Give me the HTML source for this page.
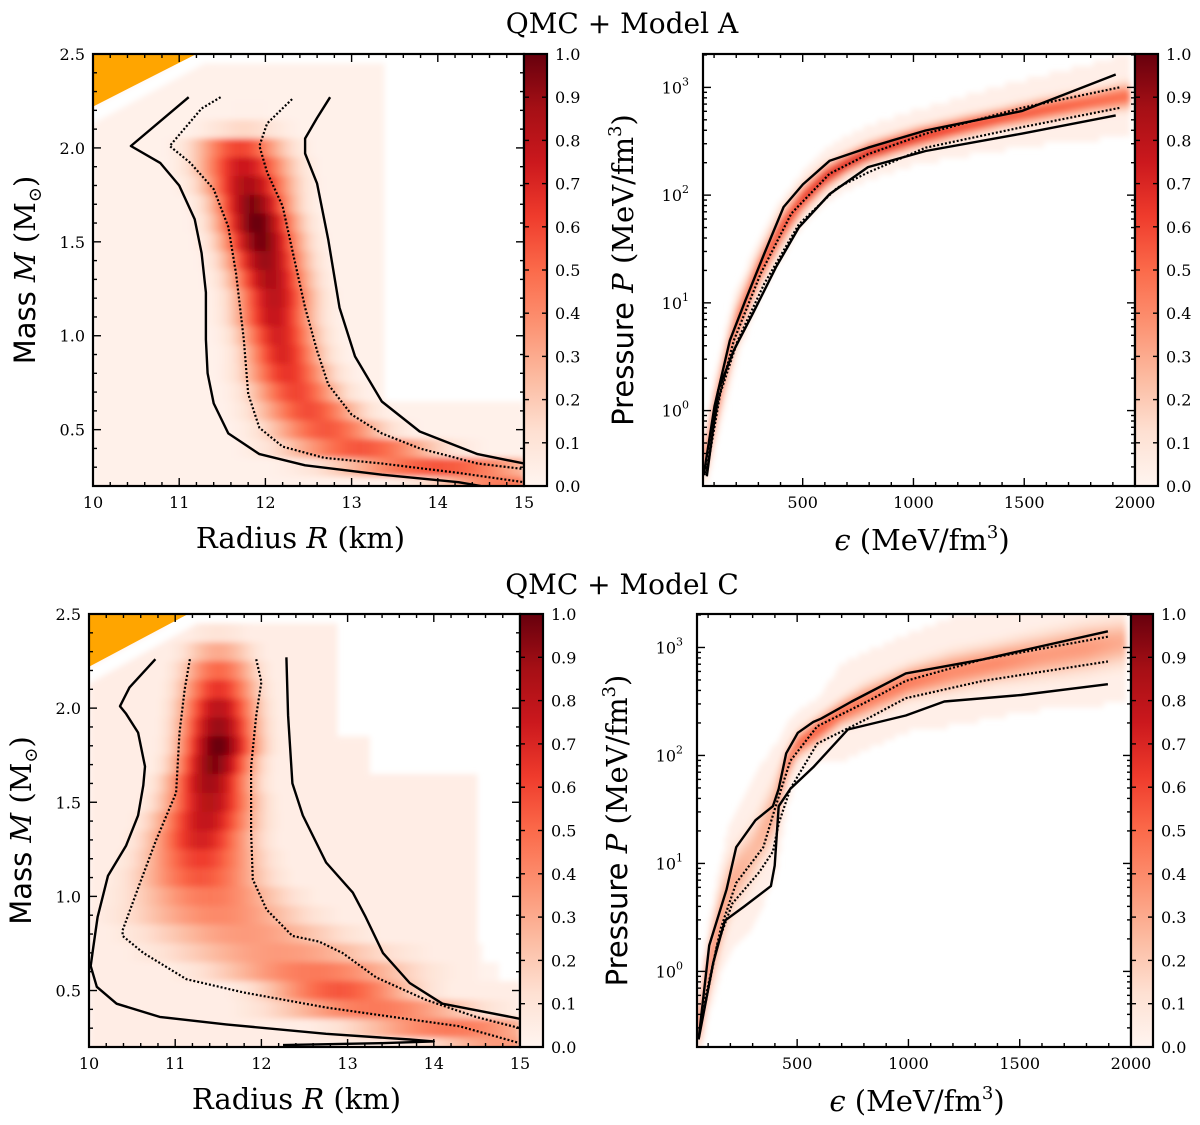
<!DOCTYPE html>
<html><head><meta charset="utf-8"><title>QMC Models</title>
<style>
html,body{margin:0;padding:0;background:#fff;}
svg{display:block;font-family:"DejaVu Serif","Liberation Serif",serif;}
</style></head>
<body>
<svg id="fig" width="1200" height="1125" viewBox="0 0 1200 1125" xmlns="http://www.w3.org/2000/svg">
<defs>
<linearGradient id="redsGrad" x1="0" y1="1" x2="0" y2="0">
<stop offset="0" stop-color="#fff5f0"/><stop offset="0.125" stop-color="#fee0d2"/><stop offset="0.25" stop-color="#fcbba1"/><stop offset="0.375" stop-color="#fc9272"/><stop offset="0.5" stop-color="#fb6a4a"/><stop offset="0.625" stop-color="#ef3b2c"/><stop offset="0.75" stop-color="#cb181d"/><stop offset="0.875" stop-color="#a50f15"/><stop offset="1" stop-color="#67000d"/>
</linearGradient>
<filter id="blur" x="-5%" y="-5%" width="110%" height="110%"><feGaussianBlur stdDeviation="3"/></filter>
</defs>
<text x="622" y="33" font-size="28" text-anchor="middle">QMC + Model A</text>
<text x="622" y="594" font-size="28" text-anchor="middle">QMC + Model C</text>
</svg>
<script>
// ===== Data =====
const mrRowsM = [2.4,2.3,2.2,2.1,2.0,1.9,1.8,1.7,1.6,1.5,1.4,1.3,1.2,1.1,1.0,0.9,0.8,0.7,0.6,0.5,0.4,0.3,0.2];
const mrA_center = [11.8,11.8,11.8,11.75,11.7,11.75,11.8,11.85,11.9,11.95,12.0,12.05,12.1,12.1,12.15,12.2,12.25,12.35,12.5,12.7,13.1,14.0,14.8];
const mrA_width  = [0.4,0.4,0.4,0.35,0.35,0.35,0.33,0.3,0.3,0.3,0.3,0.3,0.3,0.3,0.3,0.3,0.33,0.35,0.4,0.45,0.6,0.8,0.6];
const mrA_peak   = [0,0,0.03,0.15,0.6,0.75,0.85,0.95,1.0,0.97,0.9,0.85,0.8,0.77,0.72,0.7,0.65,0.6,0.58,0.55,0.55,0.55,0.45];
const mrC_center = [11.5,11.5,11.5,11.5,11.5,11.5,11.5,11.45,11.4,11.4,11.35,11.3,11.3,11.3,11.4,11.5,11.8,12.2,12.6,12.9,13.3,14.2,14.8];
const mrC_width  = [0.3,0.3,0.3,0.3,0.3,0.3,0.3,0.3,0.32,0.35,0.38,0.4,0.45,0.5,0.6,0.7,0.8,0.9,0.8,0.6,0.8,0.8,0.6];
const mrC_peak   = [0.1,0.3,0.5,0.65,0.8,0.9,1.0,0.95,0.88,0.82,0.78,0.72,0.62,0.55,0.45,0.4,0.35,0.35,0.45,0.55,0.45,0.45,0.35];

const mrA_outerLeft = [[11.11,2.27],[10.44,2.01],[10.78,1.92],[11.0,1.80],[11.18,1.62],[11.26,1.44],[11.31,1.23],[11.31,0.98],[11.33,0.80],[11.40,0.64],[11.57,0.48],[11.93,0.37],[12.46,0.31],[13.35,0.26],[14.24,0.22],[14.5,0.2]];
const mrA_innerLeft = [[11.48,2.27],[11.26,2.21],[10.89,2.01],[11.13,1.92],[11.40,1.78],[11.57,1.58],[11.66,1.33],[11.75,0.98],[11.80,0.69],[11.93,0.51],[12.20,0.41],[12.68,0.35],[13.35,0.32],[14.24,0.27],[15.0,0.22]];
const mrA_innerRight = [[12.31,2.26],[12.02,2.13],[11.93,2.01],[12.02,1.87],[12.20,1.69],[12.33,1.42],[12.46,1.15],[12.60,0.92],[12.73,0.74],[13.0,0.58],[13.35,0.48],[13.79,0.40],[14.46,0.32],[15.0,0.29]];
const mrA_outerRight = [[12.75,2.27],[12.6,2.16],[12.46,2.05],[12.46,1.97],[12.6,1.81],[12.73,1.51],[12.86,1.15],[13.04,0.89],[13.35,0.65],[13.79,0.49],[14.46,0.37],[15.0,0.32]];
const mrC_outerLeft = [[10.77,2.26],[10.47,2.11],[10.36,2.01],[10.43,1.97],[10.57,1.87],[10.65,1.69],[10.63,1.59],[10.57,1.43],[10.43,1.27],[10.22,1.11],[10.10,0.89],[10.05,0.73],[10.02,0.63],[10.09,0.52],[10.32,0.43],[10.82,0.36],[11.59,0.32],[12.75,0.27],[13.72,0.24],[14.0,0.23],[13.37,0.22],[12.25,0.21]];
const mrC_innerLeft = [[11.17,2.26],[11.11,2.1],[11.05,1.87],[11.01,1.55],[10.78,1.30],[10.59,1.07],[10.39,0.82],[10.39,0.79],[10.63,0.70],[11.13,0.56],[11.79,0.49],[12.75,0.41],[13.52,0.36],[14.3,0.31],[15.0,0.22]];
const mrC_innerRight = [[11.94,2.26],[12.0,2.14],[11.94,1.96],[11.88,1.69],[11.88,1.34],[11.9,1.09],[12.06,0.93],[12.36,0.79],[12.67,0.76],[12.94,0.70],[13.33,0.57],[13.91,0.45],[14.49,0.36],[15.0,0.30]];
const mrC_outerRight = [[12.29,2.27],[12.31,1.96],[12.36,1.6],[12.48,1.43],[12.75,1.18],[13.06,1.02],[13.21,0.89],[13.41,0.70],[13.72,0.54],[14.10,0.43],[15.0,0.35]];

const eosCols = [60,100,150,200,300,400,450,500,600,700,800,1000,1200,1400,1600,1800,1950];
const eosA_center = [-0.45,-0.05,0.4,0.8,1.3,1.68,1.83,1.97,2.17,2.3,2.4,2.53,2.63,2.72,2.8,2.87,2.92];
const eosA_sigma  = [0.1,0.12,0.12,0.12,0.1,0.1,0.09,0.08,0.07,0.06,0.06,0.06,0.06,0.06,0.07,0.07,0.08];
const eosA_peak   = [0.5,0.5,0.5,0.5,0.55,0.6,0.6,0.65,0.7,0.72,0.72,0.68,0.62,0.58,0.55,0.52,0.5];
const eosA_halo   = [0.15,0.2,0.25,0.25,0.25,0.25,0.25,0.25,0.25,0.25,0.25,0.25,0.27,0.3,0.32,0.35,0.38];
const eosC_center = [-0.5,0.0,0.45,0.8,1.1,1.5,1.9,2.1,2.25,2.4,2.5,2.68,2.78,2.86,2.93,3.0,3.05];
const eosC_sigma  = [0.12,0.15,0.2,0.2,0.2,0.2,0.1,0.08,0.08,0.08,0.1,0.1,0.12,0.12,0.14,0.15,0.15];
const eosC_peak   = [0.5,0.45,0.35,0.3,0.25,0.3,0.45,0.5,0.55,0.5,0.45,0.45,0.4,0.4,0.35,0.35,0.3];
const eosC_halo   = [0.2,0.3,0.5,0.6,0.7,0.6,0.4,0.3,0.3,0.45,0.45,0.45,0.5,0.5,0.5,0.55,0.55];

const eosA_outerUpper = [[53,-0.6],[102,0.04],[171,0.65],[241,1.02],[327,1.46],[414,1.89],[501,2.1],[622,2.32],[795,2.44],[1055,2.6],[1488,2.78],[1913,3.12]];
const eosA_outerLower = [[67,-0.61],[119,0.19],[189,0.56],[275,0.9],[379,1.33],[483,1.7],[622,2.01],[795,2.26],[1055,2.41],[1488,2.57],[1913,2.74]];
const eosA_innerUpper = [[59,-0.58],[119,0.1],[189,0.65],[310,1.27],[449,1.83],[622,2.2],[795,2.38],[1055,2.57],[1488,2.81],[1930,3.0]];
const eosA_innerLower = [[64,-0.6],[128,0.16],[206,0.65],[327,1.18],[483,1.73],[657,2.07],[795,2.21],[1055,2.44],[1488,2.63],[1930,2.81]];
const eosC_outerUpper = [[57,-0.63],[105,0.24],[183,0.76],[226,1.15],[313,1.40],[391,1.53],[417,1.69],[451,2.02],[503,2.21],[572,2.31],[607,2.34],[745,2.5],[988,2.76],[1334,2.89],[1896,3.15]];
const eosC_outerLower = [[57,-0.63],[123,0.08],[175,0.47],[261,0.6],[382,0.79],[399,0.98],[417,1.53],[469,1.69],[572,1.89],[728,2.24],[988,2.37],[1161,2.5],[1507,2.56],[1896,2.66]];
const eosC_innerUpper = [[71,-0.4],[157,0.4],[226,0.82],[348,1.15],[399,1.5],[469,1.95],[590,2.27],[815,2.5],[988,2.69],[1334,2.89],[1896,3.1]];
const eosC_innerLower = [[62,-0.56],[140,0.24],[209,0.63],[330,0.92],[391,1.11],[417,1.37],[469,1.69],[590,2.11],[815,2.34],[988,2.53],[1334,2.69],[1896,2.87]];

const mrXTicks = [10,11,12,13,14,15];
const mrYTicks = [0.5,1.0,1.5,2.0,2.5];
const eosXTicks = [500,1000,1500,2000];
const eosYDecades = [0,1,2,3];
const cbTicks = [0.0,0.1,0.2,0.3,0.4,0.5,0.6,0.7,0.8,0.9,1.0];

// ===== Helpers =====
const NS = "http://www.w3.org/2000/svg";
const svg = document.getElementById('fig');
const REDS = [[255,245,240],[254,224,210],[252,187,161],[252,146,114],[251,106,74],[239,59,44],[203,24,29],[165,15,21],[103,0,13]];
function red(v){ v=Math.max(0,Math.min(1,v)); const t=v*8; const i=Math.min(7,Math.floor(t)); const f=t-i; const a=REDS[i], b=REDS[i+1];
  return 'rgb('+a.map((c,k)=>Math.round(c+(b[k]-c)*f)).join(',')+')'; }
function el(tag, parent){ const e=document.createElementNS(NS,tag); parent.appendChild(e); return e; }
function lin(d0,d1,r0,r1){ return v=> r0+(v-d0)/(d1-d0)*(r1-r0); }
function interpAt(xs, ys, x){
  if(x<=xs[0]) return ys[0];
  for(let i=1;i<xs.length;i++){ if(x<=xs[i]){ const f=(x-xs[i-1])/(xs[i]-xs[i-1]); return ys[i-1]+(ys[i]-ys[i-1])*f; } }
  return ys[ys.length-1];
}

function makePanel(P, id){
  const g = el('g', svg);
  
  
  const cp = el('clipPath', svg); cp.setAttribute('id','clip-'+id);
  const cr = el('rect', cp); cr.setAttribute('x',P.L); cr.setAttribute('y',P.T); cr.setAttribute('width',P.R-P.L); cr.setAttribute('height',P.B-P.T);
  const clipG = el('g', g); clipG.setAttribute('clip-path','url(#clip-'+id+')');
  
  
  const heat = el('g', clipG); heat.setAttribute('filter','url(#blur)');
  
  
  const lines = el('g', clipG);
  
  
  return {g, heat, lines, clipG};
}
function frame(P, g, id){
  const r = el('rect', g); r.setAttribute('x',P.L); r.setAttribute('y',P.T); r.setAttribute('width',P.R-P.L); r.setAttribute('height',P.B-P.T);
  r.setAttribute('fill','none'); r.setAttribute('stroke','#000'); r.setAttribute('stroke-width','2.2');
  
  
}
function tick(g, x1,y1,x2,y2){ const l=el('line',g); l.setAttribute('x1',x1);l.setAttribute('y1',y1);l.setAttribute('x2',x2);l.setAttribute('y2',y2);l.setAttribute('stroke','#000');l.setAttribute('stroke-width','1.4'); }
function curve(g, pts, sx, sy, dotted, name){
  const p = el('polyline', g);
  p.setAttribute('points', pts.map(q=>sx(q[0]).toFixed(1)+','+sy(q[1]).toFixed(1)).join(' '));
  p.setAttribute('fill','none'); p.setAttribute('stroke','#000'); p.setAttribute('stroke-linejoin','round');
  if(dotted){ p.setAttribute('stroke-width','2.2'); p.setAttribute('stroke-dasharray','2,2'); }
  else { p.setAttribute('stroke-width','2.4'); }
  
  
}
function txt(g, x, y, s, size, anchor){ const t=el('text',g); t.setAttribute('x',x); t.setAttribute('y',y); t.setAttribute('font-size',size); t.setAttribute('text-anchor',anchor||'middle'); t.textContent=s; return t; }

function colorbar(x0, x1, T, B, id){
  const g = el('g', svg);
  
  
  const r = el('rect', g); r.setAttribute('x',x0); r.setAttribute('y',T); r.setAttribute('width',x1-x0); r.setAttribute('height',B-T);
  r.setAttribute('fill','url(#redsGrad)'); r.setAttribute('stroke','#000'); r.setAttribute('stroke-width','2.2');
  const sy = lin(0,1,B,T);
  cbTicks.forEach(v=>{
    const y = sy(v);
    tick(g, x0, y, x0+5, y); tick(g, x1-5, y, x1, y);
    const t = txt(g, x1+8, y+6, v.toFixed(1), 16, 'start');
    
    
  });
}

function mrPanel(P, id, center, width, peak, bgFn, curves, triTop){
  const sx = lin(10,15,P.L,P.R), sy = lin(0.2,2.5,P.B,P.T);
  const pn = makePanel(P, id);
  const dR = 0.0625;
  for(let k=0;k<mrRowsM.length;k++){
    const M = mrRowsM[k];
    for(let j=0;j<80;j++){
      const R = 10+(j+0.5)*dR;
      let v = peak[k]*Math.exp(-0.5*Math.pow((R-center[k])/width[k],2));
      const bg = bgFn(R,M); if(bg>v) v=bg;
      if(v<0.012) continue;
      const c = el('rect', pn.heat);
      c.setAttribute('x', sx(10+j*dR)); c.setAttribute('y', sy(M+0.05));
      c.setAttribute('width', (sx(dR)-sx(0)+0.6).toFixed(2)); c.setAttribute('height', (sy(0)-sy(0.1)+0.6).toFixed(2));
      c.setAttribute('fill', red(v));
      
      
    }
  }
  const tri = el('polygon', pn.clipG);
  tri.setAttribute('points', [sx(10)+','+sy(2.5), sx(triTop[0])+','+sy(2.5), sx(10)+','+sy(triTop[1])].join(' '));
  tri.setAttribute('fill','#ffa500');
  
  
  const gap = el('polygon', pn.heat);
  gap.setAttribute('points', [sx(triTop[0])+','+sy(2.5), sx(triTop[0]+0.3)+','+sy(2.5), sx(10)+','+sy(triTop[1]-0.09), sx(10)+','+sy(triTop[1])].join(' '));
  gap.setAttribute('fill','#fff');
  curves.forEach(cv=>curve(pn.lines, cv[0], sx, sy, cv[1], cv[2]));
  const ax = el('g', svg);
  
  
  for(let v=10; v<=15.001; v+=0.2){ const x=sx(v); const major=Math.abs(v-Math.round(v))<1e-6; const L=major?8:4;
    tick(ax,x,P.B,x,P.B-L); tick(ax,x,P.T,x,P.T+L); }
  mrXTicks.forEach(v=>{ const t=txt(ax, sx(v), P.B+22, String(v), 16);
    
     });
  for(let v=0.2; v<=2.5001; v+=0.1){ const y=sy(v); const major=Math.abs(v*2-Math.round(v*2))<1e-6; const L=major?8:4;
    tick(ax,P.L,y,P.L+L,y); tick(ax,P.R,y,P.R-L,y); }
  mrYTicks.forEach(v=>{ const t=txt(ax, P.L-8, sy(v)+6, v.toFixed(1), 16, 'end');
    
     });
  frame(P, ax, id);
  const xl = txt(ax, (P.L+P.R)/2-8, P.B+62, '', 29);
  xl.innerHTML = 'Radius <tspan font-style="italic">R</tspan> (km)';
  
  
  const yl = txt(ax, 0, 0, '', 29);
  yl.innerHTML = '<tspan font-family="DejaVu Sans, Liberation Sans, sans-serif">Mass</tspan> <tspan font-style="italic">M</tspan> (M<tspan font-size="18" dy="6">⊙</tspan><tspan dy="-6">)</tspan>';
  yl.setAttribute('transform','translate('+(P.L-58)+','+((P.T+P.B)/2)+') rotate(-90)');
  
  
}

function eosPanel(P, id, center, sigma, peak, halo, curves){
  const sx = lin(50,2000,P.L,P.R), sy = lin(-0.7,3.31,P.B,P.T);
  const pn = makePanel(P, id);
  const step = 12.5;
  for(let e0=50; e0<1975; e0+=step){
    const e = e0+step/2;
    const c0 = interpAt(eosCols, center, e), s0 = interpAt(eosCols, sigma, e), p0 = interpAt(eosCols, peak, e), h0 = interpAt(eosCols, halo, e);
    for(let lp=-0.7; lp<3.31; lp+=0.05){
      const d = lp+0.025-c0;
      let v = p0*Math.exp(-0.5*Math.pow(d/s0,2));
      if(Math.abs(d)<h0 && v<0.035) v=0.035;
      if(v<0.012) continue;
      const c = el('rect', pn.heat);
      c.setAttribute('x', sx(e0).toFixed(1)); c.setAttribute('y', sy(lp+0.05).toFixed(1));
      c.setAttribute('width', (sx(e0+step)-sx(e0)+0.6).toFixed(1)); c.setAttribute('height', (sy(0)-sy(0.05)+0.6).toFixed(2));
      c.setAttribute('fill', red(v));
      
      
    }
  }
  curves.forEach(cv=>curve(pn.lines, cv[0], sx, sy, cv[1], cv[2]));
  const ax = el('g', svg);
  
  
  for(let v=100; v<=2000; v+=100){ const x=sx(v); const L=(v%500===0)?8:4; tick(ax,x,P.B,x,P.B-L); tick(ax,x,P.T,x,P.T+L); }
  eosXTicks.forEach(v=>{ const t=txt(ax, sx(v), P.B+22, String(v), 16);
    
     });
  for(let d=-1; d<=3; d++){ for(let m=1;m<=9;m++){ const lv=d+Math.log10(m); if(lv<-0.7||lv>3.31) continue; const y=sy(lv); const L=m===1?8:4;
    tick(ax,P.L,y,P.L+L,y); tick(ax,P.R,y,P.R-L,y); } }
  eosYDecades.forEach(dv=>{ const t=txt(ax, P.L-14, sy(dv)+6, '', 16, 'end');
    t.innerHTML = '10<tspan font-size="11" dy="-8">'+dv+'</tspan>';
    
     });
  frame(P, ax, id);
  const xl = txt(ax, (P.L+P.R)/2+3, P.B+64, '', 29);
  xl.innerHTML = '<tspan font-style="italic">ϵ</tspan> (MeV/fm<tspan font-size="18" dy="-12">3</tspan><tspan dy="12">)</tspan>';
  
  
  const yl = txt(ax, 0, 0, '', 29);
  yl.innerHTML = '<tspan font-family="DejaVu Sans, Liberation Sans, sans-serif">Pressure</tspan> <tspan font-style="italic">P</tspan> (MeV/fm<tspan font-size="18" dy="-12">3</tspan><tspan dy="12">)</tspan>';
  yl.setAttribute('transform','translate('+(P.L-70)+','+((P.T+P.B)/2)+') rotate(-90)');
  
  
}

const PA1 = {L:93,T:54,R:524,B:486}, PA2 = {L:703,T:54,R:1135,B:486};
const PC1 = {L:89,T:614,R:520,B:1047}, PC2 = {L:697,T:614,R:1131,B:1047};

mrPanel(PA1, 'model-a-mass-radius', mrA_center, mrA_width, mrA_peak,
  (R,M)=> (M<2.45 && (R<13.4 || (M<0.62))) ? 0.025 : 0,
  [[mrA_outerLeft,false,'model-a-mr-outer-left-contour'],[mrA_innerLeft,true,'model-a-mr-inner-left-contour'],[mrA_innerRight,true,'model-a-mr-inner-right-contour'],[mrA_outerRight,false,'model-a-mr-outer-right-contour']],
  [11.2,2.22]);
colorbar(524,547,54,486,'model-a-mass-radius');
eosPanel(PA2, 'model-a-eos', eosA_center, eosA_sigma, eosA_peak, eosA_halo,
  [[eosA_outerUpper,false,'model-a-eos-outer-upper'],[eosA_outerLower,false,'model-a-eos-outer-lower'],[eosA_innerUpper,true,'model-a-eos-inner-upper'],[eosA_innerLower,true,'model-a-eos-inner-lower']]);
colorbar(1135,1158,54,486,'model-a-eos');

mrPanel(PC1, 'model-c-mass-radius', mrC_center, mrC_width, mrC_peak,
  (R,M)=> { if(M>=2.45) return 0; const lim = M<0.55?15.1:(M<1.7?14.47:(M<1.88?13.25:12.85)); return R<lim?0.045:0; },
  [[mrC_outerLeft,false,'model-c-mr-outer-left-contour'],[mrC_innerLeft,true,'model-c-mr-inner-left-contour'],[mrC_innerRight,true,'model-c-mr-inner-right-contour'],[mrC_outerRight,false,'model-c-mr-outer-right-contour']],
  [11.15,2.22]);
colorbar(520,543,614,1047,'model-c-mass-radius');
eosPanel(PC2, 'model-c-eos', eosC_center, eosC_sigma, eosC_peak, eosC_halo,
  [[eosC_outerUpper,false,'model-c-eos-outer-upper'],[eosC_outerLower,false,'model-c-eos-outer-lower'],[eosC_innerUpper,true,'model-c-eos-inner-upper'],[eosC_innerLower,true,'model-c-eos-inner-lower']]);
colorbar(1131,1153,614,1047,'model-c-eos');
</script>
</body></html>
